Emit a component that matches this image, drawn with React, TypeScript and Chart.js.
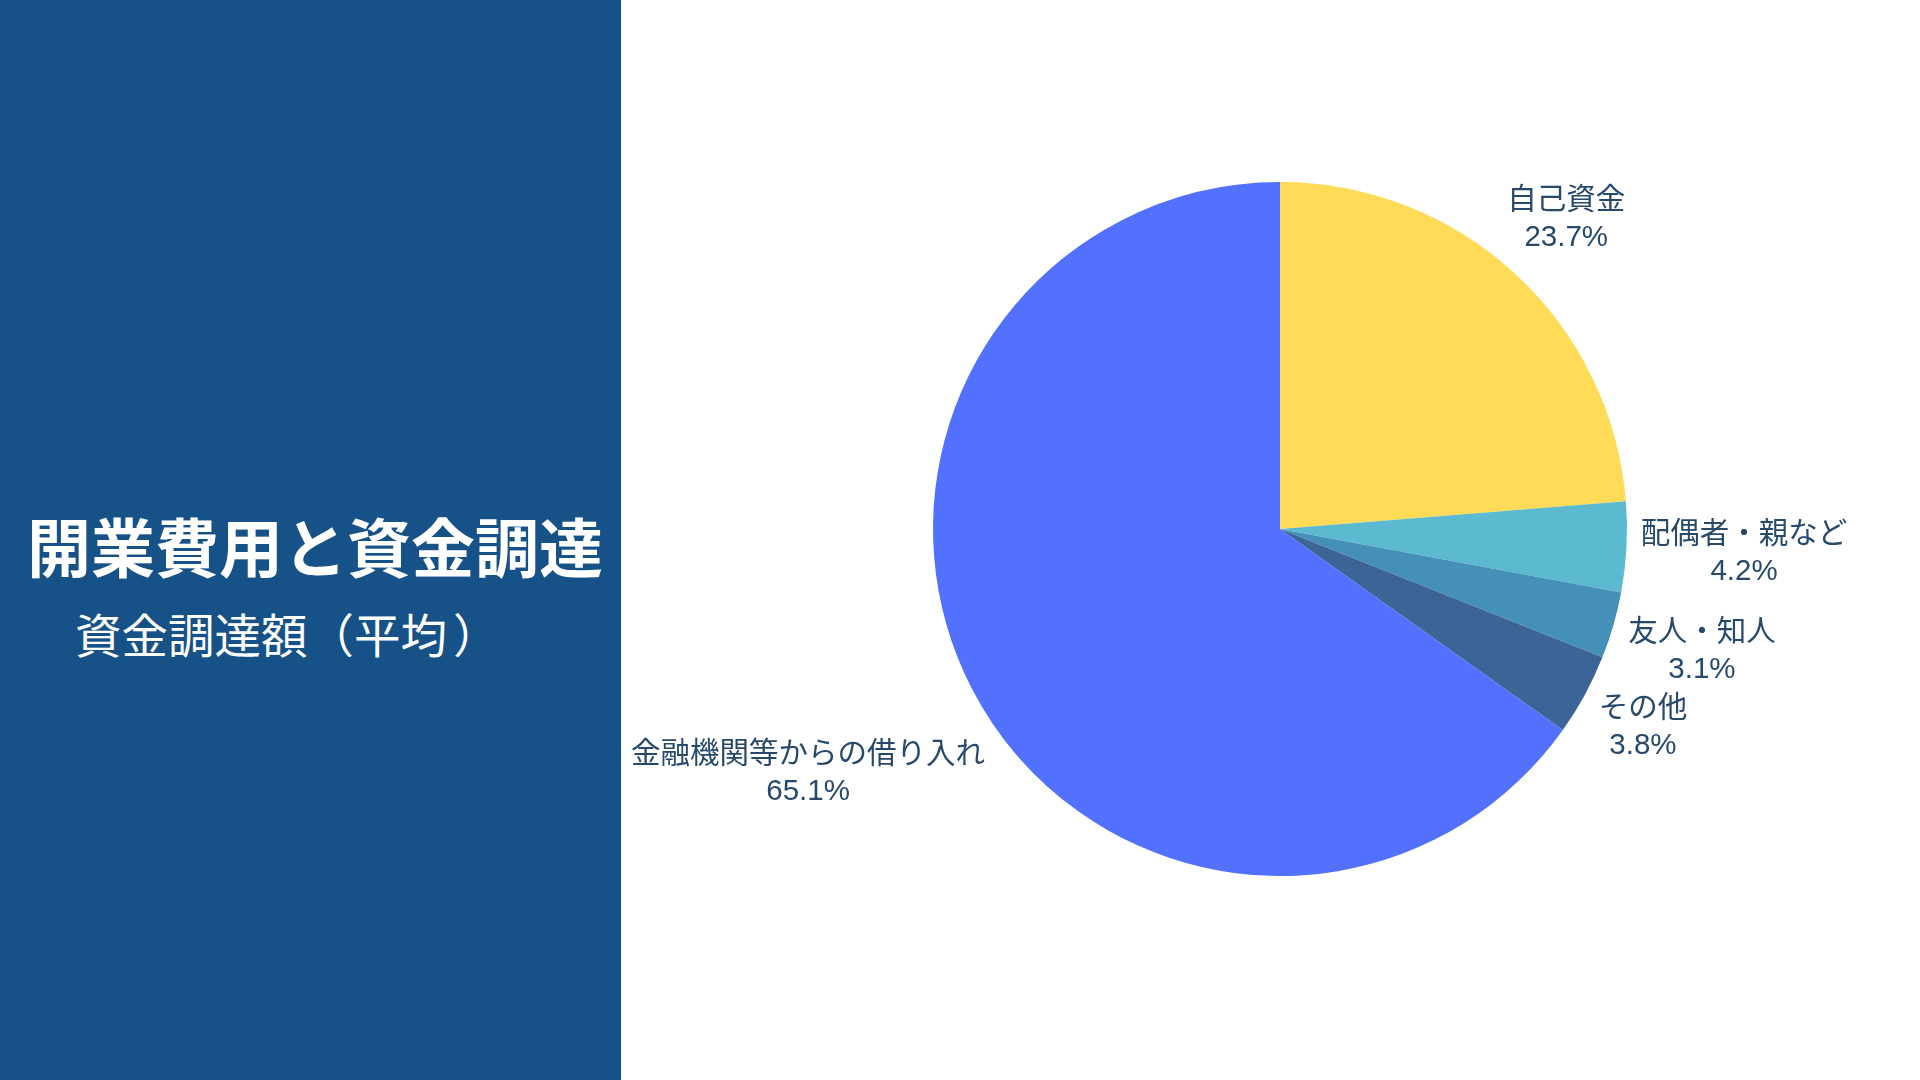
import React, { useEffect, useRef } from "react";
import { Chart, registerables } from "chart.js";

Chart.register(...registerables);

const categories: string[] = [
  "自己資金",
  "配偶者・親など",
  "友人・知人",
  "その他",
  "金融機関等からの借り入れ",
];
const shares: number[] = [23.7, 4.2, 3.1, 3.8, 65.1];
const sliceColors: string[] = ["#FFDB58", "#5BBACF", "#4590B8", "#3C6497", "#5271FF"];

const titleText = "開業費用と資金調達";
const subtitleText = "資金調達額（平均）";

const LABEL_COLOR = "#274a6c";
const LABEL_FONT = '29.5px "Liberation Sans", "Noto Sans CJK JP", sans-serif';

const outsideLabels = {
  id: "outsideLabels",
  afterDatasetsDraw(chart: any) {
    const ctx = chart.ctx as CanvasRenderingContext2D;
    const meta = chart.getDatasetMeta(0);
    const data = chart.data.datasets[0].data as number[];
    const labels = chart.data.labels as string[];
    ctx.save();
    ctx.font = LABEL_FONT;
    ctx.fillStyle = LABEL_COLOR;
    ctx.textAlign = "center";
    ctx.textBaseline = "middle";
    meta.data.forEach((arc: any, i: number) => {
      const p = arc.getProps(["x", "y", "startAngle", "endAngle", "outerRadius"], true);
      const mid = (p.startAngle + p.endAngle) / 2;
      const c = Math.cos(mid);
      const s = Math.sin(mid);
      const l1 = labels[i];
      const l2 = `${data[i]}%`;
      const w = Math.max(ctx.measureText(l1).width, ctx.measureText(l2).width);
      const halfH = 30;
      const support = (w / 2) * Math.abs(c) + halfH * Math.abs(s);
      const d = p.outerRadius + 13 + support;
      const cx = p.x + c * d;
      const cy = p.y + s * d;
      ctx.fillText(l1, cx, cy - 18);
      ctx.fillText(l2, cx, cy + 19);
    });
    ctx.restore();
  },
};

export default function App() {
  const canvasRef = useRef<HTMLCanvasElement | null>(null);

  useEffect(() => {
    document.body.style.margin = "0";
    const canvas = canvasRef.current;
    if (!canvas) return;
    const chart = new Chart(canvas, {
      type: "pie",
      data: {
        labels: categories,
        datasets: [
          {
            data: shares,
            backgroundColor: sliceColors,
            borderWidth: 0,
          },
        ],
      },
      options: {
        responsive: false,
        animation: false,
        layout: { padding: { left: 300, right: 281, top: 182, bottom: 204 } },
        plugins: {
          legend: { display: false },
          tooltip: { enabled: false },
        },
      },
      plugins: [outsideLabels],
    });
    return () => chart.destroy();
  }, []);

  const subChars = Array.from(subtitleText);
  const cell = 46.5;

  return (
    <div
      style={{
        position: "relative",
        width: 1920,
        height: 1080,
        background: "#ffffff",
        overflow: "hidden",
      }}
    >
      <div
        style={{
          position: "absolute",
          left: 0,
          top: 0,
          width: 621,
          height: 1080,
          background: "#165287",
        }}
      />
      <div
        style={{
          position: "absolute",
          left: 27,
          top: 512,
          fontFamily: '"Noto Sans CJK JP", sans-serif',
          fontWeight: 700,
          fontSize: 64,
          lineHeight: "64px",
          color: "#ffffff",
          whiteSpace: "nowrap",
        }}
      >
        {titleText}
      </div>
      <div
        style={{
          position: "absolute",
          left: 75,
          top: 610,
          fontFamily: '"Noto Sans CJK JP", sans-serif',
          fontWeight: 400,
          fontSize: cell,
          lineHeight: `${cell}px`,
          color: "#ffffff",
          whiteSpace: "nowrap",
          display: "flex",
        }}
      >
        {subChars.map((ch, i) => (
          <span
            key={i}
            style={{
              display: "inline-block",
              width: cell,
              flex: "none",
              textAlign: ch === "（" ? "right" : ch === "）" ? "left" : "center",
              paddingRight: ch === "（" ? 6 : 0,
              paddingLeft: ch === "）" ? 6 : 0,
              boxSizing: "border-box",
            }}
          >
            {ch}
          </span>
        ))}
      </div>
      <canvas
        ref={canvasRef}
        width={1299}
        height={1080}
        style={{ position: "absolute", left: 621, top: 0, width: 1299, height: 1080 }}
      />
    </div>
  );
}
